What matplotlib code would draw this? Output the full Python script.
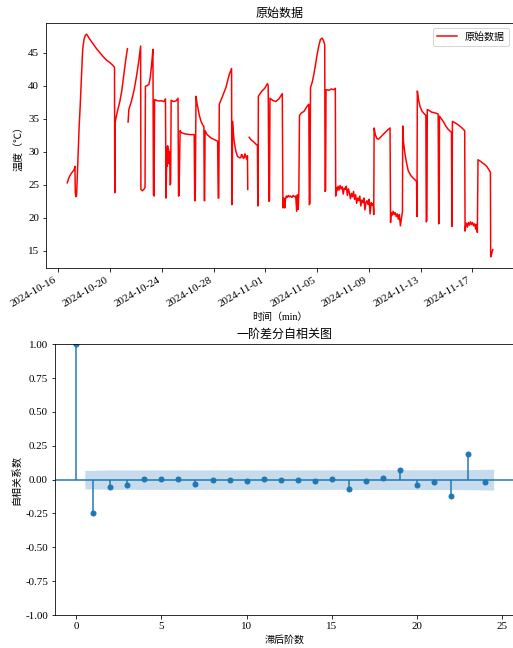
import numpy as np
import pandas as pd
import matplotlib
matplotlib.use('Agg')
import matplotlib.pyplot as plt
import matplotlib.dates as mdates

plt.rcParams['font.family'] = ['Liberation Serif', 'Noto Sans CJK SC']
plt.rcParams['font.size'] = 10
plt.rcParams['xtick.labelsize'] = 11
plt.rcParams['ytick.labelsize'] = 11
plt.rcParams['axes.titlesize'] = 12
plt.rcParams['axes.unicode_minus'] = True

# 原始数据: 距 2024-10-16 00:00 的天数 / 温度
start_day = '2024-10-16'
t_days = [
    0.69, 0.80, 0.95, 1.10, 1.22, 1.28, 1.31, 1.36, 1.41, 1.50,
    1.60, 1.67, 1.78, 1.88, 1.98, 2.08, 2.18, 2.28, 2.44, 2.70,
    2.95, 3.20, 3.46, 3.70, 3.98, 4.20, 4.34, 4.36, 4.40, 4.55,
    4.75, 4.90, 5.05, 5.20, 5.34, 5.36, 5.39, 5.45, 5.64, 5.85,
    6.03, 6.20, 6.36, 6.38, 6.50, 6.60, 6.70, 6.73, 6.85, 7.00,
    7.10, 7.20, 7.31, 7.35, 7.40, 7.44, 7.70, 8.00, 8.15, 8.28,
    8.32, 8.36, 8.39, 8.42, 8.45, 8.48, 8.51, 8.55, 8.58, 8.62,
    8.64, 8.68, 8.72, 8.90, 9.10, 9.25, 9.29, 9.33, 9.41, 9.50,
    9.80, 10.20, 10.50, 10.54, 10.58, 10.64, 10.72, 10.80, 10.90, 11.03,
    11.15, 11.25, 11.28, 11.31, 11.34, 11.50, 11.80, 12.10, 12.31, 12.36,
    12.40, 12.44, 12.69, 12.95, 13.21, 13.39, 13.41, 13.44, 13.46, 13.52,
    13.59, 13.72, 13.85, 14.00, 14.10, 14.16, 14.23, 14.30, 14.36, 14.42,
    14.49, 14.56, 14.62, 14.64, 14.70, 14.75, 14.90, 15.10, 15.30, 15.39,
    15.42, 15.44, 15.46, 15.70, 15.95, 16.16, 16.22, 16.28, 16.32, 16.36,
    16.55, 16.80, 17.05, 17.31, 17.36, 17.40, 17.44, 17.50, 17.56, 17.62,
    17.70, 17.78, 17.86, 17.95, 18.05, 18.15, 18.25, 18.35, 18.42, 18.48,
    18.54, 18.59, 18.64, 18.80, 18.98, 19.20, 19.36, 19.40, 19.45, 19.49,
    19.62, 19.75, 19.88, 20.00, 20.13, 20.26, 20.39, 20.50, 20.59, 20.62,
    20.66, 20.69, 20.90, 21.10, 21.30, 21.41, 21.44, 21.47, 21.55, 21.62,
    21.70, 21.78, 21.86, 21.94, 22.02, 22.10, 22.18, 22.26, 22.34, 22.42,
    22.50, 22.58, 22.66, 22.74, 22.82, 22.90, 22.98, 23.06, 23.14, 23.22,
    23.30, 23.38, 23.46, 23.54, 23.62, 23.70, 23.78, 23.86, 23.94, 24.02,
    24.10, 24.18, 24.26, 24.34, 24.38, 24.41, 24.50, 24.62, 24.75, 24.95,
    25.20, 25.45, 25.64, 25.68, 25.72, 25.80, 25.88, 25.96, 26.04, 26.12,
    26.20, 26.28, 26.36, 26.44, 26.50, 26.56, 26.60, 26.62, 26.68, 26.80,
    26.92, 27.05, 27.25, 27.44, 27.60, 27.69, 27.72, 27.75, 27.85, 27.95,
    28.10, 28.21, 28.41, 28.44, 28.49, 28.52, 28.70, 28.85, 29.10, 29.36,
    29.40, 29.44, 29.46, 29.60, 29.75, 29.95, 30.13, 30.30, 30.39, 30.42,
    30.44, 30.46, 30.65, 30.90, 31.15, 31.41, 31.44, 31.48, 31.55, 31.62,
    31.70, 31.78, 31.86, 31.94, 32.02, 32.10, 32.18, 32.26, 32.32, 32.39,
    32.44, 32.60, 32.80, 32.95, 33.15, 33.34, 33.40, 33.42, 33.50, 33.58,
]
temp = [
    25.3, 26.0, 26.6, 27.0, 27.3, 27.8, 23.8, 23.2, 23.4, 28.0,
    33.5, 36.2, 41.0, 45.5, 47.0, 47.6, 47.8, 47.5, 47.0, 46.3,
    45.6, 45.0, 44.4, 43.9, 43.5, 43.1, 42.8, 23.8, 34.6, 36.0,
    37.6, 39.2, 41.5, 43.8, 45.6, np.nan, 34.5, 36.4, 37.6, 39.3,
    41.3, 43.5, 46.0, 24.3, 24.1, 24.3, 24.6, 39.9, 40.0, 40.2,
    41.2, 43.0, 45.5, 23.5, 23.3, 37.9, 37.7, 37.7, 37.6, 38.0,
    23.0, 28.0, 30.7, 27.8, 30.9, 28.6, 30.4, 28.2, 30.0, 28.6,
    25.0, 25.2, 37.8, 37.6, 37.7, 38.1, 23.3, 23.4, 33.2, 32.9,
    32.7, 32.6, 32.6, 22.6, 22.6, 38.4, 37.3, 36.5, 35.5, 34.6,
    34.1, 33.8, 22.6, 22.6, 33.2, 32.6, 32.1, 31.8, 31.6, 23.0,
    23.0, 37.2, 38.4, 39.7, 41.7, 42.6, 22.0, 22.2, 34.6, 33.0,
    31.6, 30.1, 29.3, 29.1, 29.1, 29.6, 29.4, 29.0, 29.1, 29.7,
    29.3, 28.9, 29.4, 24.3, np.nan, 32.2, 31.8, 31.5, 31.1, 31.0,
    21.8, 22.0, 38.4, 39.1, 39.6, 40.3, 40.0, 22.5, 22.6, 38.1,
    37.8, 37.6, 38.0, 38.8, 21.5, 22.8, 23.0, 21.5, 22.8, 23.3,
    23.1, 23.4, 23.2, 23.3, 23.1, 23.4, 23.2, 23.3, 21.0, 23.5,
    21.3, 23.8, 35.5, 35.9, 36.1, 36.8, 37.2, 22.0, 22.2, 39.7,
    40.5, 41.7, 43.2, 44.7, 46.0, 47.0, 47.2, 46.8, 46.2, 24.0,
    24.2, 39.4, 39.3, 39.5, 39.4, 39.6, 23.3, 24.6, 24.1, 24.8,
    24.2, 24.9, 24.4, 24.7, 23.6, 24.5, 24.3, 24.8, 23.4, 24.4,
    23.8, 22.9, 23.7, 23.2, 24.0, 22.8, 23.5, 22.2, 23.0, 22.6,
    23.3, 21.8, 22.7, 22.3, 23.0, 21.2, 22.4, 22.6, 22.0, 22.8,
    20.6, 22.3, 21.9, 22.2, 20.5, 33.6, 32.6, 32.0, 31.9, 32.3,
    32.8, 33.3, 33.6, 19.3, 20.8, 20.4, 21.0, 20.5, 20.8, 20.2,
    20.6, 19.8, 20.5, 18.8, 19.6, 20.3, 21.0, 33.9, 31.5, 29.6,
    28.3, 27.1, 26.4, 26.0, 25.7, 25.5, 20.2, 39.2, 37.8, 36.9,
    36.2, 35.9, 35.5, 19.4, 19.6, 36.4, 36.2, 36.0, 35.9, 35.7,
    19.1, 19.3, 35.4, 35.0, 34.6, 33.9, 33.4, 33.1, 32.9, 18.7,
    19.0, 34.6, 34.4, 34.1, 33.7, 33.2, 18.0, 18.8, 19.2, 18.6,
    19.3, 18.9, 19.4, 19.0, 19.3, 18.8, 19.1, 18.3, 19.0, 17.8,
    28.8, 28.6, 28.3, 28.1, 27.7, 27.1, 26.9, 14.1, 14.6, 15.2,
]

# 一阶差分自相关
lags = list(range(25))
acf_vals = [1.0, -0.247, -0.055, -0.037, 0.003, 0.002, 0.003, -0.035, 0.001, -0.006,
            -0.008, 0.002, 0.001, -0.002, -0.008, 0.002, -0.067, -0.010, 0.012, 0.074,
            -0.042, -0.015, -0.123, 0.192, -0.020]
conf_half = [0.068, 0.072, 0.072, 0.072, 0.072, 0.072, 0.072, 0.072, 0.072, 0.072,
             0.072, 0.072, 0.072, 0.072, 0.072, 0.072, 0.073, 0.073, 0.073, 0.073,
             0.073, 0.073, 0.074, 0.077]

fig = plt.figure(figsize=(513 / 72, 648 / 72), dpi=72)

# 原始数据
ax1 = fig.add_axes([0.0897, 0.5864, 0.9123, 0.3781])
times = pd.Timestamp(start_day) + pd.to_timedelta(np.array(t_days), unit='D')
ax1.plot(times, temp, color='red', lw=1.5, label='原始数据')
ax1.set_xticks(pd.date_range('2024-10-16', '2024-11-17', freq='4D'))
ax1.xaxis.set_major_formatter(mdates.DateFormatter('%Y-%m-%d'))
plt.setp(ax1.get_xticklabels(), rotation=30, ha='right')
ax1.set_title('原始数据')
ax1.set_xlabel('时间（min）')
ax1.set_ylabel('温度（℃）')
ax1.legend(loc='upper right')

# 自相关图
ax2 = fig.add_axes([0.1072, 0.0509, 0.8947, 0.4178])
band_x = [0.5] + lags[2:-1] + [24.5]
ax2.fill_between(band_x, [-c for c in conf_half], conf_half, color='C0', alpha=0.25, lw=0)
ax2.axhline(0, color='C0', lw=1.5)
ax2.vlines(lags, 0, acf_vals, color='C0', lw=1.5)
ax2.plot(lags, acf_vals, 'o', color='C0', markersize=5)
ax2.set_xlim(-1.25, 25.7)
ax2.set_ylim(-1, 1)
ax2.set_yticks(np.arange(-1, 1.01, 0.25))
ax2.yaxis.set_major_formatter(matplotlib.ticker.FormatStrFormatter('%.2f'))
ax2.set_title('一阶差分自相关图')
ax2.set_xlabel('滞后阶数')
ax2.set_ylabel('自相关系数')

fig.savefig('out.png', dpi=72)
